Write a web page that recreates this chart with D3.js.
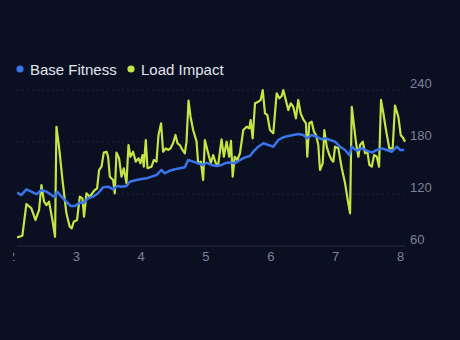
<!DOCTYPE html>
<html><head><meta charset="utf-8">
<script src="https://cdn.jsdelivr.net/npm/d3@7"></script>
<style>
html,body{margin:0;padding:0;background:#0a0f22;}
svg{display:block;}
</style></head>
<body><svg id="c" width="460" height="340"></svg>
<script>
const seriesNames = ["Base Fitness", "Load Impact"];
const seriesColors = ["#3a74ea", "#c3e545"];
const xTicks = [2, 3, 4, 5, 6, 7, 8];
const yTicks = [60, 120, 180, 240];

const loadX = [2.094,2.177,2.239,2.316,2.378,2.434,2.471,2.511,2.548,2.588,2.640,2.681,2.702,2.742,2.795,2.856,2.907,2.938,2.969,3.020,3.062,3.103,3.128,3.165,3.216,3.293,3.329,3.360,3.397,3.432,3.474,3.499,3.525,3.576,3.602,3.628,3.668,3.705,3.741,3.782,3.813,3.844,3.884,3.926,3.968,3.998,4.029,4.049,4.080,4.106,4.168,4.204,4.245,4.276,4.316,4.347,4.389,4.424,4.461,4.501,4.538,4.569,4.605,4.646,4.682,4.708,4.739,4.770,4.810,4.863,4.887,4.929,4.964,4.991,5.042,5.083,5.119,5.160,5.196,5.248,5.284,5.326,5.366,5.394,5.420,5.451,5.491,5.532,5.583,5.636,5.676,5.697,5.728,5.764,5.815,5.852,5.883,5.918,5.954,5.995,6.046,6.098,6.139,6.176,6.200,6.242,6.277,6.314,6.354,6.395,6.431,6.468,6.508,6.550,6.570,6.601,6.638,6.673,6.704,6.740,6.766,6.808,6.833,6.870,6.910,6.947,6.972,6.998,7.049,7.102,7.153,7.194,7.230,7.256,7.292,7.323,7.358,7.384,7.426,7.461,7.497,7.528,7.565,7.600,7.642,7.677,7.707,7.743,7.784,7.835,7.887,7.923,7.974,8.011,8.051,8.077];
const loadY = [70.0,71.9,108.5,103.5,90.0,101.5,130.4,111.1,107.3,111.1,90.0,70.7,197.6,174.6,136.2,97.7,82.3,80.4,88.0,90.0,116.9,115.0,93.8,120.8,116.9,124.6,126.6,147.7,151.5,167.7,168.8,163.0,140.0,136.2,120.8,167.7,161.2,140.0,149.7,132.3,176.5,163.0,168.8,157.3,161.2,155.4,165.0,151.5,182.3,149.7,151.5,159.2,157.3,188.1,201.6,168.8,172.7,170.8,172.7,178.5,188.1,178.5,176.5,170.8,167.0,180.4,227.7,209.2,193.8,180.4,155.4,157.3,136.2,182.3,167.0,155.4,165.0,155.4,153.5,183.1,163.0,180.4,163.0,181.2,140.0,163.0,159.2,167.0,193.8,197.6,195.8,205.4,184.3,224.7,226.5,228.5,240.0,213.1,211.2,193.8,190.0,236.2,230.4,233.1,240.0,227.7,216.9,224.7,220.7,207.3,228.5,213.1,206.2,201.6,163.0,201.6,203.4,191.9,188.1,176.5,147.7,155.4,193.8,174.6,165.0,159.2,157.3,174.6,172.7,149.7,132.3,113.1,97.7,220.7,197.6,178.5,163.0,176.5,180.4,167.0,168.8,153.5,151.5,165.0,163.0,151.5,228.5,213.1,193.8,172.7,172.7,222.0,209.2,188.1,184.3,180.4];

const baseX = [2.094,2.162,2.239,2.316,2.394,2.471,2.548,2.625,2.676,2.711,2.779,2.856,2.918,2.985,3.062,3.123,3.190,3.267,3.344,3.421,3.499,3.576,3.638,3.705,3.782,3.833,3.937,4.014,4.091,4.168,4.245,4.322,4.373,4.451,4.528,4.605,4.682,4.733,4.810,4.887,4.964,5.017,5.094,5.171,5.248,5.326,5.377,5.454,5.532,5.609,5.686,5.737,5.815,5.892,5.969,6.046,6.123,6.200,6.277,6.354,6.431,6.508,6.570,6.638,6.715,6.792,6.843,6.920,6.998,7.075,7.153,7.219,7.256,7.333,7.410,7.488,7.565,7.642,7.719,7.796,7.873,7.951,8.002,8.064];
const baseY = [121.5,118.8,125.4,122.7,119.7,124.6,122.7,118.8,116.2,122.7,116.9,111.1,106.2,106.2,110.0,110.0,115.0,116.9,120.8,127.7,128.4,125.4,129.2,128.4,129.2,134.2,136.2,137.3,138.1,140.0,141.9,147.7,143.9,146.9,148.5,149.7,150.8,159.2,157.3,155.4,153.5,156.1,153.5,152.3,153.5,156.1,156.3,155.4,159.2,162.3,163.8,168.8,174.6,178.5,176.5,174.6,182.3,185.4,186.9,188.1,189.2,188.1,184.3,188.1,186.1,183.1,184.3,182.3,180.4,174.6,170.8,165.0,174.6,170.0,172.7,170.0,167.7,170.8,172.7,170.8,168.8,174.6,170.8,170.8];

const svg = d3.select("#c");
const pLeft = 17, pRight = 405, pTop = 90, pBottom = 246;
const x = d3.scaleLinear().domain([2.094, 8.077]).range([pLeft, pRight]);
const y = d3.scaleLinear().domain([60, 240]).range([pBottom, pTop]);

const defs = svg.append("defs");
defs.append("clipPath").attr("id","plot").append("rect")
  .attr("x", pLeft).attr("y", 0).attr("width", pRight-pLeft+2).attr("height", 340);
defs.append("clipPath").attr("id","xl").append("rect")
  .attr("x", 13).attr("y", 0).attr("width", 440).attr("height", 340);

// grid
const grid = svg.append("g");
yTicks.forEach(t => {
  grid.append("line")
    .attr("x1", pLeft).attr("x2", pRight)
    .attr("y1", y(t)).attr("y2", y(t))
    .attr("stroke", t === 60 ? "#262c40" : "#1c2236")
    .attr("stroke-width", 1)
    .attr("stroke-dasharray", t === 60 ? null : "2,3");
});

// y labels
const yAxis = d3.axisRight(y).tickValues(yTicks).tickSize(0).tickPadding(0);
const gy = svg.append("g").attr("transform", `translate(410,-7)`).call(yAxis);
gy.select(".domain").remove();
gy.selectAll("text").attr("fill", "#7c8398").attr("font-size", 13)
  .attr("font-family", "Liberation Sans, Arial, sans-serif");

// x labels
const xAxis = d3.axisBottom(x).tickValues(xTicks).tickSize(0).tickPadding(0).tickFormat(d3.format("d"));
const gx = svg.append("g").attr("transform", `translate(0,252)`).attr("clip-path","url(#xl)").call(xAxis);
gx.select(".domain").remove();
gx.selectAll("text").attr("fill", "#7c8398").attr("font-size", 13)
  .attr("font-family", "Liberation Sans, Arial, sans-serif");

// lines
const line = d3.line().x(d => x(d[0])).y(d => y(d[1])).curve(d3.curveLinear);
const plot = svg.append("g").attr("clip-path", "url(#plot)");
plot.append("path").datum(loadX.map((v,i)=>[v, loadY[i]]))
  .attr("d", line).attr("fill","none").attr("stroke", seriesColors[1])
  .attr("stroke-width", 2.2).attr("stroke-linejoin","round");
plot.append("path").datum(baseX.map((v,i)=>[v, baseY[i]]))
  .attr("d", line).attr("fill","none").attr("stroke", seriesColors[0])
  .attr("stroke-width", 2.5).attr("stroke-linejoin","round");

// legend
const lg = svg.append("g").attr("font-family", "Liberation Sans, Arial, sans-serif").attr("font-size", 15);
const legendX = [20, 131];
seriesNames.forEach((n,i) => {
  lg.append("circle").attr("cx", legendX[i]).attr("cy", 69).attr("r", 3.6).attr("fill", seriesColors[i]);
  lg.append("text").attr("x", legendX[i]+10).attr("y", 74.5).attr("fill", "#e1e5ee").text(n);
});
</script></body></html>
